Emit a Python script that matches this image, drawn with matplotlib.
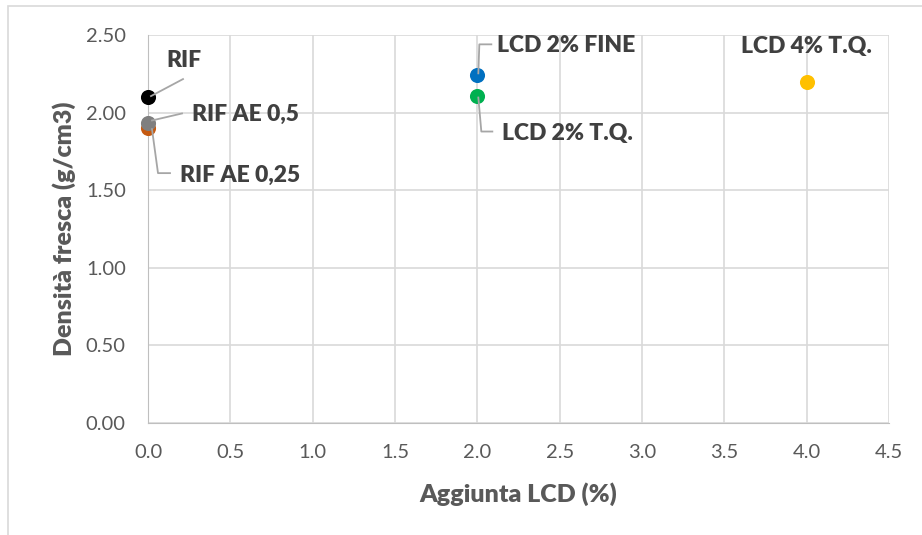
import matplotlib
matplotlib.use("Agg")
import matplotlib.pyplot as plt
from matplotlib.patches import Rectangle

# dati
etichette = ["RIF AE 0,25", "RIF AE 0,5", "RIF", "LCD 2% FINE", "LCD 2% T.Q.", "LCD 4% T.Q."]
aggiunta_lcd = [0.0, 0.0, 0.0, 2.0, 2.0, 4.0]
densita = [1.90, 1.93, 2.10, 2.24, 2.11, 2.20]
colori = ["#C55A11", "#7F7F7F", "#000000", "#0070C0", "#00B050", "#FFC000"]

x_ticks = [0.0, 0.5, 1.0, 1.5, 2.0, 2.5, 3.0, 3.5, 4.0, 4.5]
y_ticks = [0.0, 0.5, 1.0, 1.5, 2.0, 2.5]

# posizione testo etichette (offset in pixel dal punto)
offset_testo = [(92, -47), (97, 9), (36, 37), (89, 30), (90, -38), (0, 35)]
# linee guida (offset in pixel)
linee_guida = [
    [(4, -1), (10, -45), (22, -45)],
    [(4, 3), (34, 10)],
    [(3, 1), (35, 18)],
    [(1, 2), (2, 31), (14, 31)],
    [(1, -2), (4, -36), (15, -36)],
    None,
]

plt.rcParams['font.family'] = ['Lato', 'DejaVu Sans']

W, H = 922, 535
fig = plt.figure(figsize=(W / 100, H / 100), dpi=100)
ax = fig.add_axes([148 / W, (535 - 423) / H, (889 - 148) / W, 388 / H])

# cornice del grafico
fig.patches.append(Rectangle((8 / W, -0.1), 2, (H - 6) / H + 0.1, transform=fig.transFigure,
                             fill=False, edgecolor="#D9D9D9", lw=1.2))

ax.set_xlim(0, 4.5)
ax.set_ylim(0, 2.5)
ax.set_xticks(x_ticks)
ax.set_yticks(y_ticks)
ax.set_xticklabels([f"{v:.1f}" for v in x_ticks])
ax.set_yticklabels([f"{v:.2f}" for v in y_ticks])
ax.tick_params(length=0, labelsize=14.5, labelcolor="#595959")
ax.tick_params(axis='x', pad=15)
ax.tick_params(axis='y', pad=16)
ax.grid(True, color="#D9D9D9", lw=1.2)
ax.set_axisbelow(True)
for s in ax.spines.values():
    s.set_visible(False)
ax.spines['left'].set_visible(True)
ax.spines['left'].set_color("#BFBFBF")
ax.spines['bottom'].set_visible(True)
ax.spines['bottom'].set_color("#BFBFBF")

ax.set_xlabel("Aggiunta LCD (%)", fontsize=18, fontweight='heavy', color="#595959")
ax.set_ylabel("Densità fresca (g/cm3)", fontsize=18, fontweight='heavy', color="#595959")
ax.xaxis.set_label_coords(0.5, -0.152)
ax.yaxis.set_label_coords(-0.097, 0.5)

for x, y, c in zip(aggiunta_lcd, densita, colori):
    ax.scatter([x], [y], s=118, color=c, zorder=3, clip_on=False, linewidths=0)

fig.canvas.draw()
for lab, x, y, off, guida in zip(etichette, aggiunta_lcd, densita, offset_testo, linee_guida):
    ax.annotate(lab, (x, y), xytext=off, textcoords='offset pixels', ha='center', va='center',
                fontsize=16.5, fontweight='heavy', color="#404040", zorder=5)
    if guida:
        px, py = ax.transData.transform((x, y))
        xs = [px + dx for dx, dy in guida]
        ys = [py + dy for dx, dy in guida]
        ax.add_line(plt.Line2D(xs, ys, transform=None, color="#A6A6A6", lw=1.3, zorder=4))

fig.savefig("out.png", dpi=100)
